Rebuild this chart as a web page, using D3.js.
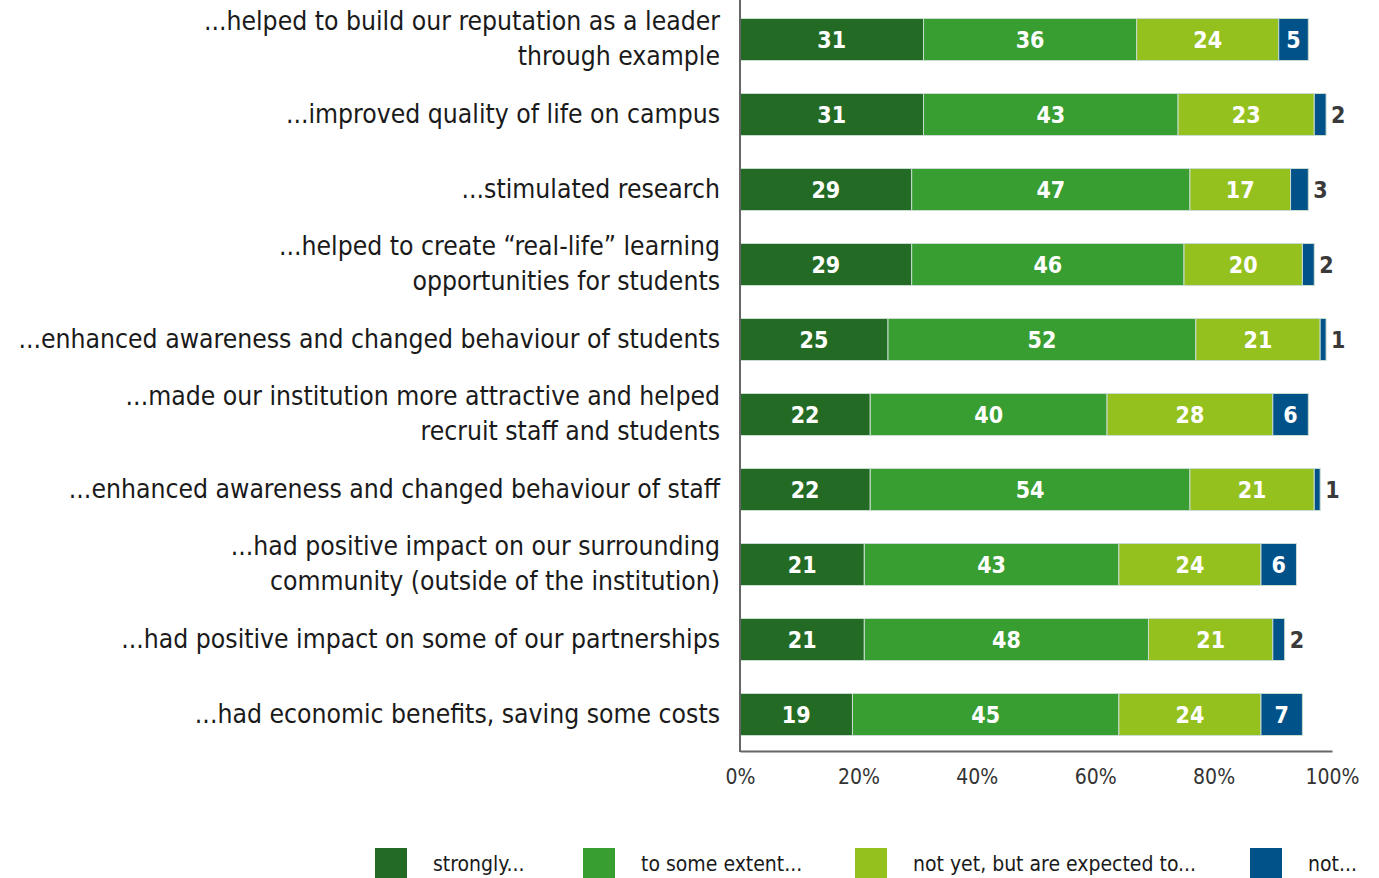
<!DOCTYPE html>
<html>
<head>
<meta charset="utf-8">
<script src="https://cdn.jsdelivr.net/npm/d3@7"></script>
<style>
  body { margin: 0; background: #fff; }
  text { font-family: "Liberation Sans Narrow", "DejaVu Sans Condensed", "Roboto", sans-serif; }
</style>
</head>
<body>
<script>
const w = 1379;
const h = 878;

// data
const categories = [
  ["...helped to build our reputation as a leader", "through example"],
  ["...improved quality of life on campus"],
  ["...stimulated research"],
  ["...helped to create \u201creal-life\u201d learning", "opportunities for students"],
  ["...enhanced awareness and changed behaviour of students"],
  ["...made our institution more attractive and helped", "recruit staff and students"],
  ["...enhanced awareness and changed behaviour of staff"],
  ["...had positive impact on our surrounding", "community (outside of the institution)"],
  ["...had positive impact on some of our partnerships"],
  ["...had economic benefits, saving some costs"]
];
const strongly = [31, 31, 29, 29, 25, 22, 22, 21, 21, 19];
const someExtent = [36, 43, 47, 46, 52, 40, 54, 43, 48, 45];
const notYet = [24, 23, 17, 20, 21, 28, 21, 24, 21, 24];
const notAtAll = [5, 2, 3, 2, 1, 6, 1, 6, 2, 7];
const seriesNames = ["strongly...", "to some extent...", "not yet, but are expected to...", "not..."];
const tickValues = [0, 20, 40, 60, 80, 100];

const colors = ["#236b24", "#389e32", "#95c11f", "#005288"];
const series = [strongly, someExtent, notYet, notAtAll];

const left = 740;
const right = 1332;

const svg = d3.select("body").append("svg").attr("width", w).attr("height", h);

const xScale = d3.scaleLinear().domain([0, 100]).range([left, right]);
const yScale = d3
  .scaleBand()
  .domain(d3.range(categories.length))
  .range([2, 752])
  .paddingInner(0.44)
  .paddingOuter(0.22);

// stacked segments
const rows = categories.map((c, i) => {
  let x0 = 0;
  return series.map((s, k) => {
    const seg = { row: i, k: k, v: s[i], x0: x0, x1: x0 + s[i] };
    x0 += s[i];
    return seg;
  });
});

const g = svg.append("g");
rows.forEach((segs) => {
  g.selectAll(null)
    .data(segs)
    .enter()
    .append("rect")
    .attr("x", (d) => xScale(d.x0))
    .attr("y", (d) => yScale(d.row))
    .attr("width", (d) => xScale(d.x1) - xScale(d.x0))
    .attr("height", yScale.bandwidth())
    .style("fill", (d) => colors[d.k])
    .style("stroke", "#c9dcd0")
    .style("stroke-width", 1);

  g.selectAll(null)
    .data(segs)
    .enter()
    .append("text")
    .attr("x", (d) => (d.v <= 3 ? xScale(d.x1) + 5 : xScale((d.x0 + d.x1) / 2)))
    .attr("y", (d) => yScale(d.row) + yScale.bandwidth() / 2)
    .attr("dy", "0.36em")
    .attr("text-anchor", (d) => (d.v <= 3 ? "start" : "middle"))
    .style("font-size", "23px")
    .style("font-weight", "bold")
    .style("fill", (d) => (d.v <= 3 ? "#3a3a3a" : "#fff"))
    .text((d) => d.v);
});

// category labels
categories.forEach((lines, i) => {
  const cy = yScale(i) + yScale.bandwidth() / 2;
  const t = svg
    .append("text")
    .attr("text-anchor", "end")
    .style("font-size", "26.3px")
    .style("fill", "#1a1a1a");
  lines.forEach((line, j) => {
    t.append("tspan")
      .attr("x", 720)
      .attr("y", cy + 8 + (j - (lines.length - 1) / 2) * 35)
      .text(line);
  });
});

// axes
const xAxis = d3
  .axisBottom(xScale)
  .tickValues(tickValues)
  .tickFormat((d) => d + "%")
  .tickSize(0)
  .tickPadding(18);

const xg = svg
  .append("g")
  .attr("transform", "translate(0,751)")
  .call(xAxis);
xg.select(".domain").attr("stroke", "#666").attr("stroke-width", 2);
xg.selectAll("text").style("font-size", "21px").style("fill", "#333");

svg
  .append("line")
  .attr("x1", left)
  .attr("x2", left)
  .attr("y1", 0)
  .attr("y2", 752)
  .attr("stroke", "#666")
  .attr("stroke-width", 2);

// legend
const legendX = [375, 583, 855, 1250];
const legend = svg
  .selectAll(".legend")
  .data(seriesNames)
  .enter()
  .append("g")
  .attr("class", "legend")
  .attr("transform", (d, i) => "translate(" + legendX[i] + ",848)");
legend
  .append("rect")
  .attr("width", 32)
  .attr("height", 32)
  .style("fill", (d, i) => colors[i]);
legend
  .append("text")
  .attr("x", 58)
  .attr("y", 23)
  .style("font-size", "21px")
  .style("fill", "#1a1a1a")
  .text((d) => d);
</script>
</body>
</html>
